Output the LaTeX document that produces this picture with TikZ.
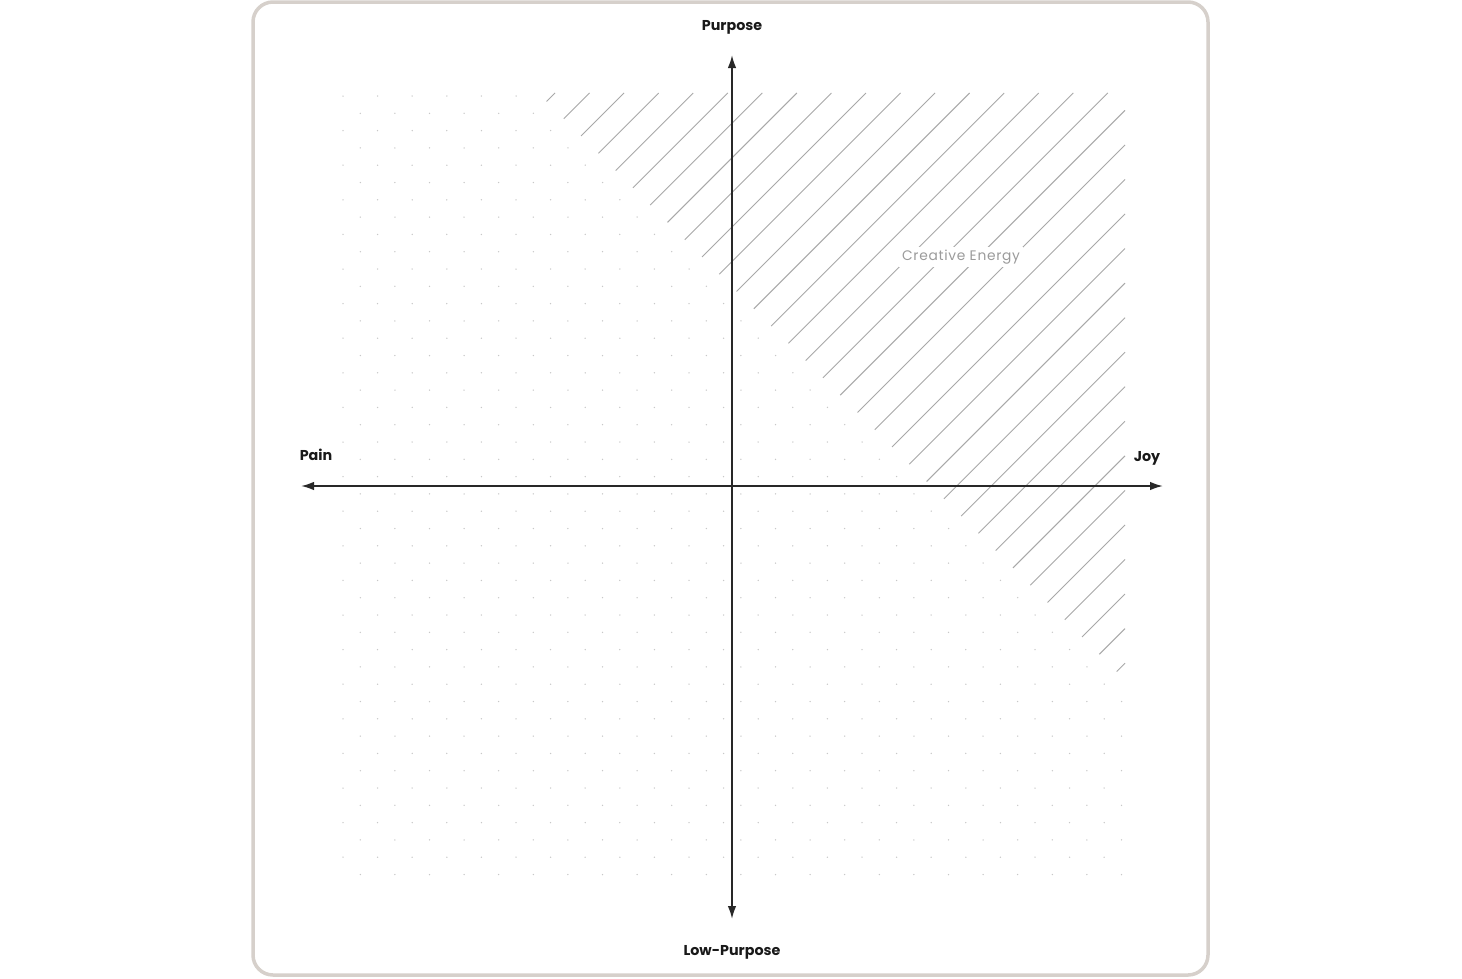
\documentclass[tikz,border=0pt]{standalone}
\usepackage{fontspec}
\setmainfont{Poppins}
\newfontfamily\zonefont[LetterSpace=5]{Poppins}
\usetikzlibrary{arrows.meta}
\definecolor{framec}{RGB}{214,208,203}
\definecolor{axisc}{RGB}{40,40,40}
\definecolor{hatchc}{RGB}{168,168,168}
\definecolor{dotc}{RGB}{200,200,200}
\definecolor{labelc}{RGB}{25,25,25}
\definecolor{softc}{RGB}{155,155,155}
\tikzset{
  frame/.style={draw=framec, line width=3.5pt, rounded corners=20pt},
  axis/.style={draw=axisc, line width=1.8pt, {Latex[length=13pt,width=8.5pt]}-{Latex[length=13pt,width=8.5pt]}},
  hatchline/.style={draw=hatchc, line width=0.9pt},
  dotmark/.style={fill=dotc},
  axislabel/.style={text=labelc, font=\bfseries\fontsize{14.3}{17}\selectfont, inner sep=0pt},
  zonelabel/.style={text=softc, fill=white, font=\zonefont\fontsize{13.8}{16}\selectfont, inner sep=3pt}
}
\begin{document}
\begin{tikzpicture}[x=1pt,y=-1pt]
\useasboundingbox (0,0) rectangle (1462,978);
\fill[white] (0,0) rectangle (1462,978);
% frame
\draw[frame] (253,2) rectangle (1208,975);
% dot grid (outside hatched zone)
\begin{scope}
  \clip (330,85) -- (525,85) -- (1135,695) -- (1135,890) -- (330,890) -- cycle;
  \foreach \k in {0,...,45} {
    \foreach \j in {0,...,22} {
      \fill[dotmark] ({343+34.6*\j+mod(\k,2)*17.3},{96+17.3*\k}) circle[radius=0.75pt];
    }
  }
\end{scope}
% hatch lines
\foreach \n in {0,...,33} {
  \pgfmathsetmacro{\c}{648+34.55*\n}
  \pgfmathsetmacro{\sx}{(\c+445)/2}
  \pgfmathsetmacro{\sy}{(\c-445)/2}
  \pgfmathsetmacro{\ex}{min(\c-93,1125)}
  \pgfmathsetmacro{\ey}{\c-\ex}
  \draw[hatchline] (\sx,\sy) -- (\ex,\ey);
}
\node[zonelabel] (energy) at (961,257) {Creative Energy};
% axes
\coordinate (left) at (301,486);
\coordinate (right) at (1163,486);
\coordinate (top) at (732,55);
\coordinate (bottom) at (732,919);
\draw[axis] (left) -- (right);
\draw[axis] (bottom) -- (top);
% labels
\node[axislabel] (purpose) at (732,27) {Purpose};
\node[axislabel] (lowpurpose) at (732,952) {Low-Purpose};
\node[axislabel] (pain) at (316,455) {Pain};
\node[axislabel] (joy) at (1147,458) {Joy};
\end{tikzpicture}
\end{document}
